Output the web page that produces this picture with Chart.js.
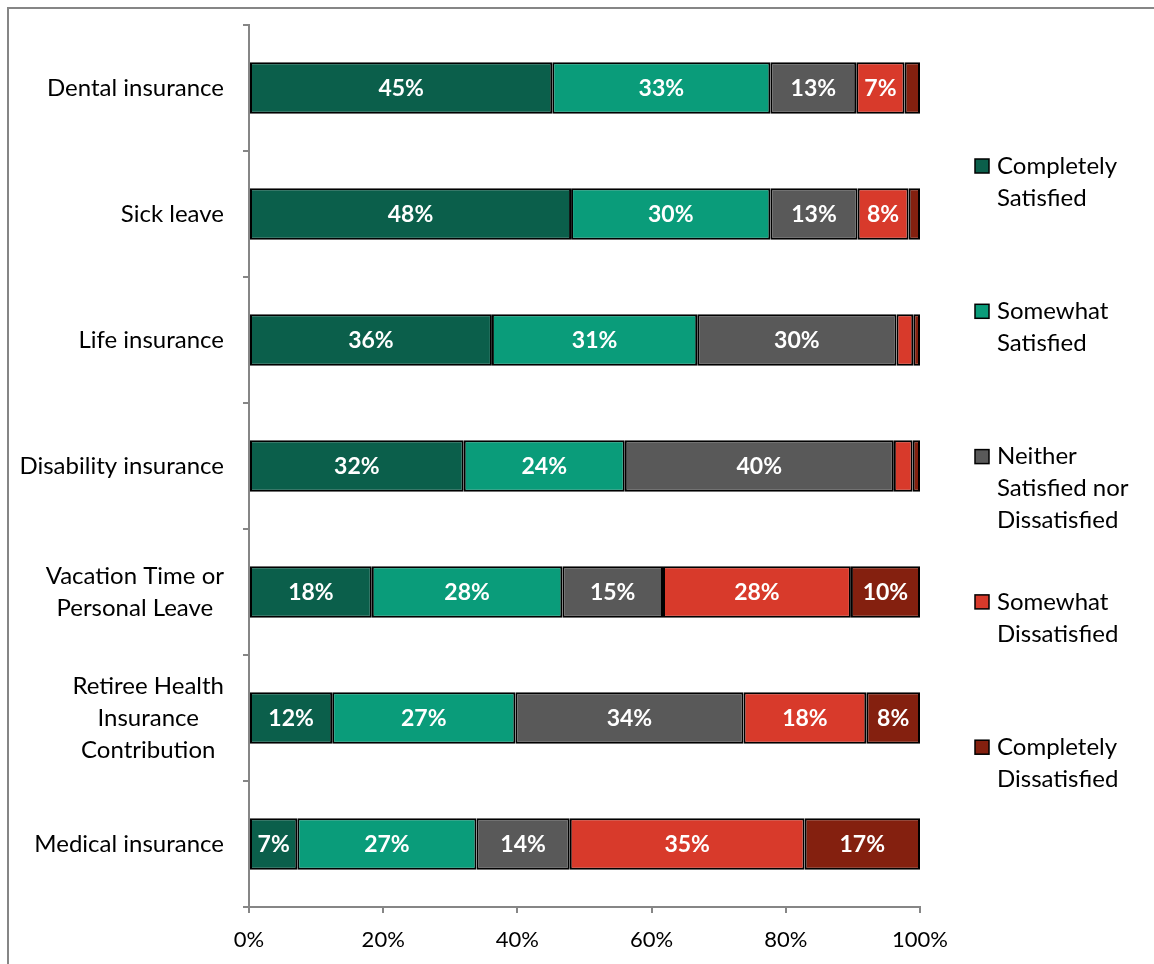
<!DOCTYPE html>
<html>
<head>
<meta charset="utf-8">
<script src="https://cdn.jsdelivr.net/npm/chart.js@4.4.1/dist/chart.umd.min.js"></script>
<style>
  html, body { margin: 0; padding: 0; background: #fff; }
  #wrap { position: relative; width: 1154px; height: 964px; }
</style>
</head>
<body>
<div id="wrap"><canvas id="myChart" width="1154" height="964"></canvas></div>
<script>
const categories = [
  "Dental insurance",
  "Sick leave",
  "Life insurance",
  "Disability insurance",
  ["Vacation Time or", "Personal Leave"],
  ["Retiree Health", "Insurance", "Contribution"],
  "Medical insurance",
];

// shares in percent; the printed labels are these rounded
const completelySatisfied = [45.2, 48.0, 36.2, 32.0, 18.3, 12.4, 7.2];
const somewhatSatisfied = [32.5, 29.7, 30.6, 24.0, 28.4, 27.3, 26.7];
const neitherSatisfied = [12.8, 13.0, 29.7, 40.1, 15.0, 34.0, 13.9];
const somewhatDissatisfied = [7.2, 7.6, 2.5, 2.8, 28.0, 18.3, 35.0];
const completelyDissatisfied = [2.3, 1.7, 1.0, 1.1, 10.3, 8.0, 17.2];

const seriesNames = [
  ["Completely", "Satisfied"],
  ["Somewhat", "Satisfied"],
  ["Neither", "Satisfied nor", "Dissatisfied"],
  ["Somewhat", "Dissatisfied"],
  ["Completely", "Dissatisfied"],
];

const xTicks = [0, 20, 40, 60, 80, 100];

const colors = ["#0b5f4b", "#0a9c7a", "#595959", "#d83a2b", "#84200f"];
const axisGray = "#868686";
const FONT = "Lato, 'Open Sans', sans-serif";

const allSeries = [
  completelySatisfied,
  somewhatSatisfied,
  neitherSatisfied,
  somewhatDissatisfied,
  completelyDissatisfied,
];

// outer frame, segment labels, category labels and the legend
const decorations = {
  id: "decorations",
  beforeDraw(chart) {
    const ctx = chart.ctx;
    ctx.save();
    ctx.strokeStyle = axisGray;
    ctx.lineWidth = 2;
    ctx.strokeRect(8, 8, 1300, 1100);
    ctx.restore();
  },
  afterDraw(chart) {
    const ctx = chart.ctx;
    const area = chart.chartArea;
    const yScale = chart.scales.y;
    ctx.save();

    // values inside the segments
    ctx.fillStyle = "#fff";
    ctx.font = "bold 23px " + FONT;
    ctx.textAlign = "center";
    ctx.textBaseline = "middle";
    chart.data.datasets.forEach((ds, di) => {
      const meta = chart.getDatasetMeta(di);
      meta.data.forEach((bar, i) => {
        const v = Math.round(ds.data[i]);
        if (v < 5) return;
        const cx = (bar.x + bar.base) / 2;
        ctx.fillText(v + "%", cx, bar.y + 1);
      });
    });

    // category labels, lines centred inside a right-aligned block
    ctx.fillStyle = "#000";
    ctx.font = "24px " + FONT;
    categories.forEach((cat, i) => {
      const lines = Array.isArray(cat) ? cat : [cat];
      const widths = lines.map((l) => ctx.measureText(l).width);
      const maxW = Math.max(...widths);
      const center = area.left - 25 - maxW / 2;
      const yc = yScale.getPixelForValue(i);
      const lh = 32;
      lines.forEach((l, k) => {
        const y = yc + (k - (lines.length - 1) / 2) * lh;
        ctx.fillText(l, center, y);
      });
    });

    // legend
    ctx.textAlign = "left";
    ctx.font = "24px " + FONT;
    seriesNames.forEach((name, i) => {
      const y0 = area.top + 141 + i * 145.3;
      ctx.fillStyle = colors[i];
      ctx.fillRect(975, y0 - 7, 14, 14);
      ctx.strokeStyle = "#000";
      ctx.lineWidth = 1.5;
      ctx.strokeRect(975, y0 - 7, 14, 14);
      ctx.fillStyle = "#000";
      name.forEach((line, k) => {
        ctx.fillText(line, 997, y0 + k * 32);
      });
    });
    ctx.restore();
  },
};

const ctx = document.getElementById("myChart").getContext("2d");

const myChart = new Chart(ctx, {
  type: "bar",
  data: {
    labels: categories,
    datasets: allSeries.map((data, i) => ({
      label: seriesNames[i].join(" "),
      data: data,
      backgroundColor: colors[i],
      borderColor: "#000",
      borderWidth: 2,
      borderSkipped: false,
      categoryPercentage: 1,
      barPercentage: 0.41,
    })),
  },
  options: {
    indexAxis: "y",
    responsive: false,
    animation: false,
    devicePixelRatio: 1,
    layout: { padding: { top: 25, right: 234, left: 0, bottom: 0 } },
    scales: {
      x: {
        stacked: true,
        min: 0,
        max: 100,
        afterBuildTicks(scale) {
          scale.ticks = xTicks.map((v) => ({ value: v }));
        },
        afterFit(scale) {
          scale.height = 57;
        },
        border: { color: axisGray, width: 2 },
        grid: {
          drawOnChartArea: false,
          drawTicks: true,
          tickLength: 6,
          color: axisGray,
          lineWidth: 2,
        },
        ticks: {
          color: "#000",
          font: { family: FONT, size: 22 },
          padding: 14,
          callback: (v) => v + "%",
        },
      },
      y: {
        stacked: true,
        afterFit(scale) {
          scale.width = 249;
        },
        border: { color: axisGray, width: 2 },
        grid: {
          offset: true,
          drawOnChartArea: false,
          drawTicks: true,
          tickLength: 6,
          color: axisGray,
          lineWidth: 2,
        },
        ticks: {
          color: "rgba(0,0,0,0)",
          font: { family: FONT, size: 21 },
        },
      },
    },
    plugins: {
      legend: { display: false },
      tooltip: { enabled: false },
    },
  },
  plugins: [decorations],
});
</script>
</body>
</html>
